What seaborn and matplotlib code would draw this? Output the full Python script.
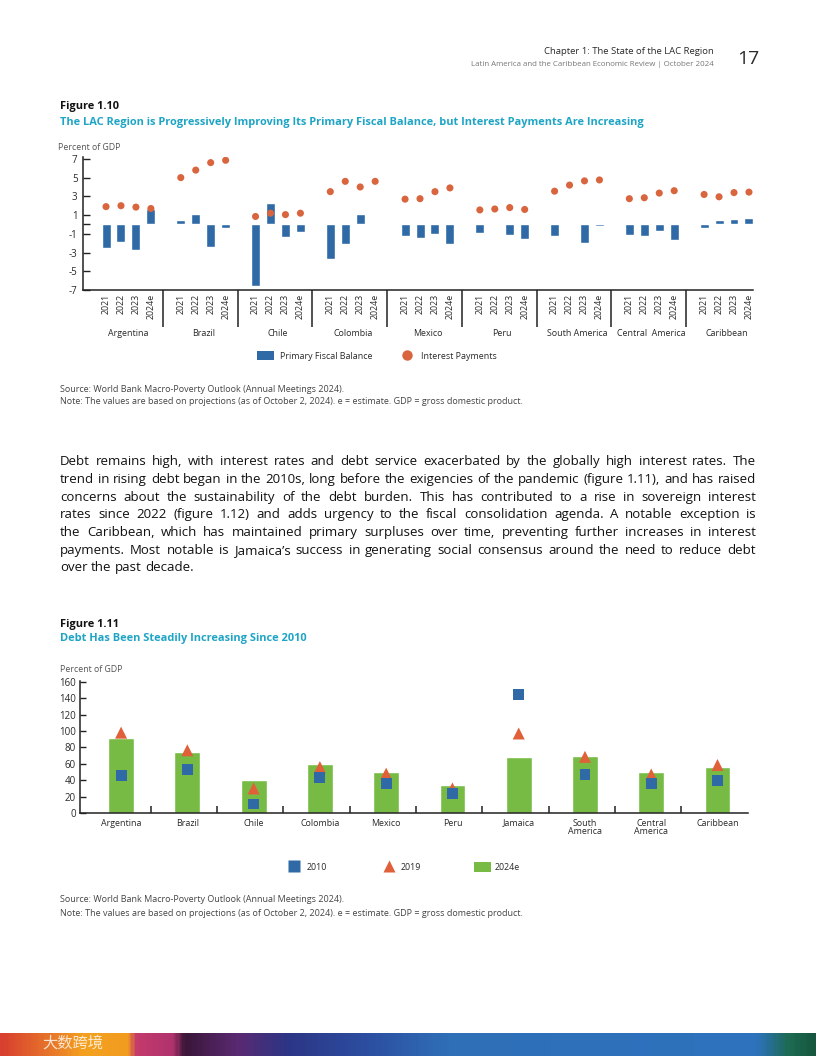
import numpy as np
import pandas as pd
import seaborn as sns
import matplotlib.pyplot as plt
from matplotlib.patches import Patch
from matplotlib.lines import Line2D
from matplotlib.colors import LinearSegmentedColormap

# ---- Figure 1.10 data (percent of GDP) ----
groups = ['Argentina', 'Brazil', 'Chile', 'Colombia', 'Mexico', 'Peru',
          'South America', 'Central  America', 'Caribbean']
years = ['2021', '2022', '2023', '2024e']
primary_balance = [
    [-2.5, -1.9, -2.7, 1.7],
    [0.5, 1.1, -2.4, -0.35],
    [-6.6, 2.3, -1.3, -0.85],
    [-3.7, -2.1, 1.1, -0.1],
    [-1.2, -1.5, -1.0, -2.1],
    [-0.95, -0.1, -1.1, -1.6],
    [-1.25, 0.2, -1.95, -0.15],
    [-1.15, -1.25, -0.7, -1.7],
    [-0.4, 0.45, 0.6, 0.65],
]
interest_payments = [
    [1.9, 2.0, 1.85, 1.7],
    [5.0, 5.8, 6.6, 6.85],
    [0.85, 1.2, 1.05, 1.2],
    [3.5, 4.6, 4.0, 4.6],
    [2.7, 2.75, 3.5, 3.9],
    [1.55, 1.65, 1.8, 1.6],
    [3.55, 4.2, 4.65, 4.75],
    [2.75, 2.85, 3.35, 3.6],
    [3.2, 2.95, 3.4, 3.45],
]

# ---- Figure 1.11 data (percent of GDP) ----
countries = ['Argentina', 'Brazil', 'Chile', 'Colombia', 'Mexico', 'Peru',
             'Jamaica', 'South\nAmerica', 'Central\nAmerica', 'Caribbean']
debt_2010 = [46, 53, 11, 43, 36, 24, 144.5, 47.5, 35.5, 39.5]
debt_2019 = [98, 76.5, 30, 56, 48, 30, 97, 68.5, 47, 58.5]
debt_2024e = [91, 75, 40.5, 60, 50.5, 34, 68, 69, 50, 56]

BLUE = '#2f6aa6'
ORANGE = '#d9653f'
TRI = '#e0603a'
GREEN = '#77bb45'
CYAN = '#1ea5c6'
DARK = '#2a2a2a'
GREY = '#555555'

sns.set_theme(style='white')
plt.rcParams['font.family'] = ['Open Sans', 'DejaVu Sans']

W, H = 816, 1056
fig = plt.figure(figsize=(W / 100, H / 100), dpi=100)
renderer = fig.canvas.get_renderer()


def fx(x):
    return x / W


def fy(y):
    return 1 - y / H


# ---- page header ----
fig.text(fx(714), fy(52), 'Chapter 1: The State of the LAC Region', ha='right', va='center',
         fontsize=6.8, color=DARK)
fig.text(fx(714), fy(65), 'Latin America and the Caribbean Economic Review | October 2024',
         ha='right', va='center', fontsize=5.7, color='#777777')
fig.text(fx(748), fy(59), '17', ha='center', va='center', fontsize=14, color=DARK)

# ---- Figure 1.10 ----
fig.text(fx(60), fy(106), 'Figure 1.10', fontsize=7.9, fontweight='bold', color='#111111', va='center')
fig.text(fx(60), fy(122), 'The LAC Region is Progressively Improving Its Primary Fiscal Balance, '
         'but Interest Payments Are Increasing', fontsize=7.9, fontweight='bold', color=CYAN, va='center')
fig.text(fx(58), fy(148), 'Percent of GDP', fontsize=6.3, color=GREY, va='center')

rows = []
for g, name in enumerate(groups):
    for j, yr in enumerate(years):
        rows.append({'pos': g * 5 + j, 'group': name, 'year': yr,
                     'balance': primary_balance[g][j],
                     'interest': interest_payments[g][j]})
df1 = pd.DataFrame(rows)

ax1 = fig.add_axes([fx(83), fy(290), fx(753) - fx(83), fy(157) - fy(290)])
sns.barplot(data=df1, x='pos', y='balance', native_scale=True, width=0.6,
            color=BLUE, saturation=1, ax=ax1)
sns.scatterplot(data=df1, x='pos', y='interest', color=ORANGE, s=26,
                edgecolor='none', ax=ax1, zorder=3)
ax1.set_xlim(-1.54, 43.27)
ax1.set_ylim(-7, 7.2)
ax1.set_yticks([7, 5, 3, 1, 0, -1, -3, -5, -7])
ax1.set_yticklabels(['7', '5', '3', '1', '', '-1', '-3', '-5', '-7'])
ax1.set_xticks(df1['pos'])
ax1.set_xticklabels(df1['year'], rotation=90, fontsize=6.4, color=DARK)
ax1.tick_params(axis='x', length=0, pad=3)
ax1.tick_params(axis='y', direction='in', length=5, width=1, color='#222222',
                labelsize=7, labelcolor=DARK, pad=4, left=True)
ax1.set_xlabel('')
ax1.set_ylabel('')
for side in ['top', 'right']:
    ax1.spines[side].set_visible(False)
for side in ['left', 'bottom']:
    ax1.spines[side].set_color('#222222')
    ax1.spines[side].set_linewidth(1.1)
seps = [g * 5 + 3.8 for g in range(len(groups) - 1)]
ax1.vlines(seps, -0.28, 0, transform=ax1.get_xaxis_transform(), colors='#222222',
           linewidth=1.1, clip_on=False)
for g, name in enumerate(groups):
    ax1.text(g * 5 + 1.5, -0.33, name, transform=ax1.get_xaxis_transform(),
             ha='center', va='center', fontsize=6.4, color=DARK)

leg1 = fig.legend(handles=[Patch(facecolor=BLUE, edgecolor='none', label='Primary Fiscal Balance'),
                           Line2D([], [], marker='o', linestyle='none', markersize=7.5,
                                  markerfacecolor=ORANGE, markeredgecolor='none',
                                  label='Interest Payments')],
                  loc='center', bbox_to_anchor=(fx(377), fy(356)), ncol=2, frameon=False,
                  fontsize=6.4, handlelength=1.9, handleheight=1.1, columnspacing=3.0,
                  handletextpad=0.6)
for t in leg1.get_texts():
    t.set_color(DARK)

src_kw = dict(fontsize=6.5, color='#444444', va='center')
fig.text(fx(60), fy(389), 'Source: World Bank Macro-Poverty Outlook (Annual Meetings 2024).', **src_kw)
fig.text(fx(60), fy(401), 'Note: The values are based on projections (as of October 2, 2024). '
         'e = estimate. GDP = gross domestic product.', **src_kw)

# ---- body paragraph (justified) ----
para = [
    "Debt remains high, with interest rates and debt service exacerbated by the globally high interest rates. The",
    "trend in rising debt began in the 2010s, long before the exigencies of the pandemic (figure 1.11), and has raised",
    "concerns about the sustainability of the debt burden. This has contributed to a rise in sovereign interest",
    "rates since 2022 (figure 1.12) and adds urgency to the fiscal consolidation agenda. A notable exception is",
    "the Caribbean, which has maintained primary surpluses over time, preventing further increases in interest",
    "payments. Most notable is Jamaica\u2019s success in generating social consensus around the need to reduce debt",
    "over the past decade.",
]
para_y = [465, 483, 501, 518, 536, 554, 571]   # baselines
x_left, x_right = 60, 756

# size the body font so the longest line fills the column with normal spacing
probe = fig.text(0, 0, para[1], fontsize=10)
body_size = 10 * 690 / probe.get_window_extent(renderer).width
probe.remove()
body_kw = dict(fontsize=body_size, color='#111111', va='baseline')
sp = fig.text(0, 0, 'a a', **body_kw)
sp2 = fig.text(0, 0, 'aa', **body_kw)
space_w = sp.get_window_extent(renderer).width - sp2.get_window_extent(renderer).width
sp.remove()
sp2.remove()
for k, (line, yv) in enumerate(zip(para, para_y)):
    words = line.split()
    objs = [fig.text(0, fy(yv), w, **body_kw) for w in words]
    widths = [o.get_window_extent(renderer).width for o in objs]
    if k == len(para) - 1:
        gap = space_w
    else:
        gap = (x_right - x_left - sum(widths)) / (len(words) - 1)
    xc = x_left
    for o, wd in zip(objs, widths):
        o.set_x(fx(xc))
        xc += wd + gap

# ---- Figure 1.11 ----
fig.text(fx(60), fy(624), 'Figure 1.11', fontsize=7.9, fontweight='bold', color='#111111', va='center')
fig.text(fx(60), fy(639), 'Debt Has Been Steadily Increasing Since 2010', fontsize=7.9,
         fontweight='bold', color=CYAN, va='center')
fig.text(fx(60), fy(669), 'Percent of GDP', fontsize=6.3, color=GREY, va='center')

df2 = pd.DataFrame({'pos': np.arange(len(countries)), 'country': countries,
                    'd2010': debt_2010, 'd2019': debt_2019, 'd2024': debt_2024e})

ax2 = fig.add_axes([fx(80), fy(813), fx(748) - fx(80), fy(681) - fy(813)])
sns.barplot(data=df2, x='pos', y='d2024', native_scale=True, width=0.39,
            color=GREEN, saturation=1, ax=ax2)
sns.scatterplot(data=df2, x='pos', y='d2019', marker='^', s=75, color=TRI,
                edgecolor='none', ax=ax2, zorder=3)
sns.scatterplot(data=df2, x='pos', y='d2010', marker='s', s=62, color=BLUE,
                edgecolor='none', ax=ax2, zorder=4)
ax2.set_xlim(-0.62, 9.46)
ax2.set_ylim(0, 161)
ax2.set_yticks(range(0, 161, 20))
ax2.set_xticks(df2['pos'])
ax2.set_xticklabels(df2['country'], fontsize=6.4, color=DARK, linespacing=0.95)
ax2.set_xticks(df2['pos'][:-1] + 0.45, minor=True)
ax2.tick_params(axis='x', which='major', length=0, pad=4)
ax2.tick_params(axis='x', which='minor', direction='in', length=5, width=1.1,
                color='#222222', bottom=True)
ax2.tick_params(axis='y', direction='in', length=4, width=1, color='#222222',
                labelsize=7, labelcolor=DARK, pad=3, left=True)
ax2.set_xlabel('')
ax2.set_ylabel('')
for side in ['top', 'right']:
    ax2.spines[side].set_visible(False)
for side in ['left', 'bottom']:
    ax2.spines[side].set_color('#222222')
    ax2.spines[side].set_linewidth(1.1)

leg2 = fig.legend(handles=[Line2D([], [], marker='s', linestyle='none', markersize=8,
                                  markerfacecolor=BLUE, markeredgecolor='none', label='2010'),
                           Line2D([], [], marker='^', linestyle='none', markersize=9,
                                  markerfacecolor=TRI, markeredgecolor='none', label='2019'),
                           Patch(facecolor=GREEN, edgecolor='none', label='2024e')],
                  loc='center', bbox_to_anchor=(fx(403), fy(867)), ncol=3, frameon=False,
                  fontsize=6.4, handlelength=1.9, handleheight=1.4, columnspacing=6.0,
                  handletextpad=0.4)
for t in leg2.get_texts():
    t.set_color(DARK)

fig.text(fx(60), fy(899), 'Source: World Bank Macro-Poverty Outlook (Annual Meetings 2024).', **src_kw)
fig.text(fx(60), fy(914), 'Note: The values are based on projections (as of October 2, 2024). '
         'e = estimate. GDP = gross domestic product.', **src_kw)

# ---- decorative colour band at the bottom ----
band = LinearSegmentedColormap.from_list('band', [
    (0.0, '#d8402f'), (0.06, '#e8772a'), (0.10, '#f4a11f'), (0.155, '#f29c20'),
    (0.165, '#c43a6c'), (0.21, '#b0336e'), (0.225, '#3a1638'), (0.29, '#5a2a72'),
    (0.35, '#2d3585'), (0.45, '#2c4ea0'), (0.55, '#2f6fb8'), (0.93, '#2e72bd'),
    (0.97, '#1d6a52'), (1.0, '#17573f')])
axb = fig.add_axes([0, 0, 1, 23 / H])
axb.imshow(np.linspace(0, 1, 400)[None, :], aspect='auto', cmap=band, extent=[0, 1, 0, 1])
axb.set_axis_off()
fig.text(fx(42), fy(1043), '大数跨境', family=['Noto Sans CJK SC', 'DejaVu Sans'],
         fontsize=11, color='white', alpha=0.8, va='center', ha='left')

fig.savefig('out.png', dpi=100)
